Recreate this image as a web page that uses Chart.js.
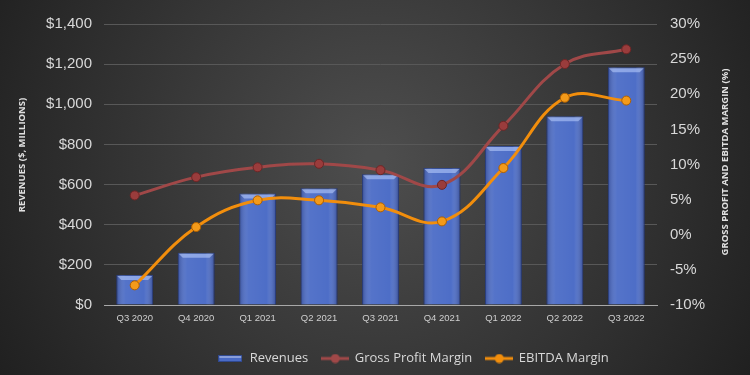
<!DOCTYPE html>
<html>
<head>
<meta charset="utf-8">
<script src="https://cdn.jsdelivr.net/npm/chart.js@4"></script>
<style>
  html, body { margin: 0; padding: 0; background: #2a2a2a; }
  #wrap { width: 750px; height: 375px; }
</style>
</head>
<body>
<div id="wrap"><canvas id="chart" width="750" height="375"></canvas></div>
<script>
const quarters = ['Q3 2020', 'Q4 2020', 'Q1 2021', 'Q2 2021', 'Q3 2021', 'Q4 2021', 'Q1 2022', 'Q2 2022', 'Q3 2022'];
const revenues = [150, 260, 555, 582, 652, 682, 792, 941, 1185];
const grossMargin = [5.6, 8.2, 9.6, 10.1, 9.2, 7.1, 15.5, 24.3, 26.4];
const ebitdaMargin = [-7.2, 1.1, 4.9, 4.9, 3.9, 1.9, 9.5, 19.5, 19.1];

const BLUE = '#4a6bc6';
const RED = '#a04848';
const ORANGE = '#f28e0c';

// legend symbols
function legendIcon(kind, color) {
    const c = document.createElement('canvas');
    const g = c.getContext('2d');
    if (kind === 'bar') {
        c.width = 24; c.height = 7;
        g.fillStyle = color;
        g.fillRect(0, 0, 24, 7);
        g.fillStyle = 'rgba(255,255,255,0.35)';
        g.fillRect(1, 1, 22, 2);
        g.strokeStyle = '#30498f';
        g.strokeRect(0.5, 0.5, 23, 6);
    } else {
        c.width = 28; c.height = 10;
        g.strokeStyle = color;
        g.lineWidth = 3;
        g.beginPath(); g.moveTo(0, 5); g.lineTo(28, 5); g.stroke();
        g.fillStyle = color;
        g.beginPath(); g.arc(14, 5, 4.5, 0, Math.PI * 2); g.fill();
    }
    return c;
}

const bgPlugin = {
    id: 'bg',
    beforeDraw(chart) {
        const { ctx, width, height } = chart;
        const grd = ctx.createRadialGradient(375, 160, 10, 375, 160, 470);
        grd.addColorStop(0, '#4d4d4d');
        grd.addColorStop(1, '#1c1c1c');
        ctx.save();
        ctx.fillStyle = grd;
        ctx.fillRect(0, 0, width, height);
        ctx.restore();
    }
};

// bevel highlight on bars + axis titles
const extrasPlugin = {
    id: 'extras',
    afterDatasetDraw(chart, args) {
        if (args.index !== 0) return;
        const ctx = chart.ctx;
        chart.getDatasetMeta(0).data.forEach(bar => {
            const l = bar.x - bar.width / 2, r = bar.x + bar.width / 2;
            ctx.save();
            const grd = ctx.createLinearGradient(l, 0, r, 0);
            grd.addColorStop(0, 'rgba(20,30,80,0.35)');
            grd.addColorStop(0.25, 'rgba(255,255,255,0.06)');
            grd.addColorStop(0.75, 'rgba(255,255,255,0.02)');
            grd.addColorStop(1, 'rgba(20,30,80,0.4)');
            ctx.fillStyle = grd;
            ctx.fillRect(l, bar.y, bar.width, bar.base - bar.y);
            ctx.fillStyle = 'rgba(190,210,255,0.55)';
            ctx.beginPath();
            ctx.moveTo(l + 1, bar.y + 1);
            ctx.lineTo(r - 1, bar.y + 1);
            ctx.lineTo(r - 5, bar.y + 5);
            ctx.lineTo(l + 5, bar.y + 5);
            ctx.closePath();
            ctx.fill();
            ctx.restore();
        });
    },
    afterDraw(chart) {
        const ctx = chart.ctx;
        ctx.save();
        ctx.fillStyle = '#e0e0e0';
        ctx.font = 'bold 9.5px "Open Sans", sans-serif';
        ctx.textAlign = 'center';
        ctx.textBaseline = 'middle';
        ctx.translate(22, 155);
        ctx.rotate(-Math.PI / 2);
        ctx.fillText('REVENUES ($, MILLIONS)', 0, 0);
        ctx.restore();
        ctx.save();
        ctx.fillStyle = '#e0e0e0';
        ctx.font = 'bold 9.5px "Open Sans", sans-serif';
        ctx.textAlign = 'center';
        ctx.textBaseline = 'middle';
        ctx.translate(725, 162);
        ctx.rotate(-Math.PI / 2);
        ctx.fillText('GROSS PROFIT AND EBITDA MARGIN (%)', 0, 0);
        ctx.restore();
    },
    beforeDraw(chart) {
        // legend sits a bit right of centre in the reference
        const lg = chart.legend;
        if (lg && !lg._shifted) {
            lg.left += 38; lg.right += 38; lg._shifted = true;
        }
    },
    afterLayout(chart) {
        if (chart.legend) chart.legend._shifted = false;
    }
};

new Chart(document.getElementById('chart'), {
    data: {
        labels: quarters,
        datasets: [
            {
                type: 'bar',
                label: 'Revenues',
                data: revenues,
                yAxisID: 'y',
                backgroundColor: BLUE,
                borderColor: '#2f4890',
                borderWidth: 1,
                barPercentage: 0.6,
                categoryPercentage: 1,
                order: 3
            },
            {
                type: 'line',
                label: 'Gross Profit Margin',
                data: grossMargin,
                yAxisID: 'y1',
                borderColor: RED,
                backgroundColor: '#9a3c3c',
                pointBorderColor: '#6e2626',
                pointBorderWidth: 1,
                pointRadius: 4.5,
                borderWidth: 3,
                tension: 0.4,
                order: 1
            },
            {
                type: 'line',
                label: 'EBITDA Margin',
                data: ebitdaMargin,
                yAxisID: 'y1',
                borderColor: ORANGE,
                backgroundColor: '#f39a1a',
                pointBorderColor: '#b06000',
                pointBorderWidth: 1,
                pointRadius: 4.5,
                borderWidth: 3,
                tension: 0.4,
                order: 2
            }
        ]
    },
    options: {
        responsive: false,
        animation: false,
        layout: { padding: { top: 24, bottom: 0 } },
        plugins: {
            tooltip: { enabled: false },
            legend: {
                position: 'bottom',
                labels: {
                    color: '#d8d8d8',
                    font: { family: '"Open Sans", sans-serif', size: 13 },
                    usePointStyle: true,
                    pointStyleWidth: 26,
                    padding: 14,
                    generateLabels(chart) {
                        const icons = [legendIcon('bar', BLUE), legendIcon('line', RED), legendIcon('line', ORANGE)];
                        return chart.data.datasets.map((ds, i) => ({
                            text: ds.label,
                            pointStyle: icons[i],
                            fontColor: '#d8d8d8',
                            datasetIndex: i,
                            lineWidth: 0,
                            strokeStyle: 'transparent',
                            fillStyle: 'transparent'
                        }));
                    }
                }
            }
        },
        scales: {
            x: {
                grid: { display: false, drawTicks: false },
                border: { color: '#a8a8a8', width: 1 },
                ticks: {
                    color: '#cfcfcf',
                    font: { family: '"Liberation Sans", Arial, sans-serif', size: 9.5 },
                    padding: 8,
                    maxRotation: 0
                },
                afterFit(s) { s.height = 33; }
            },
            y: {
                position: 'left',
                min: 0, max: 1400,
                ticks: {
                    stepSize: 200,
                    color: '#d8d8d8',
                    padding: 12,
                    font: { family: '"Liberation Sans", Arial, sans-serif', size: 15 },
                    callback: v => '$' + v.toLocaleString('en-US')
                },
                grid: { color: '#585858', drawTicks: false },
                border: { display: false },
                afterFit(s) { s.width = 104; }
            },
            y1: {
                position: 'right',
                min: -10, max: 30,
                ticks: {
                    stepSize: 5,
                    color: '#d8d8d8',
                    padding: 13,
                    font: { family: '"Liberation Sans", Arial, sans-serif', size: 15 },
                    callback: v => v + '%'
                },
                grid: { display: false, drawTicks: false },
                border: { display: false },
                afterFit(s) { s.width = 93; }
            }
        }
    },
    plugins: [bgPlugin, extrasPlugin]
});
</script>
</body>
</html>
